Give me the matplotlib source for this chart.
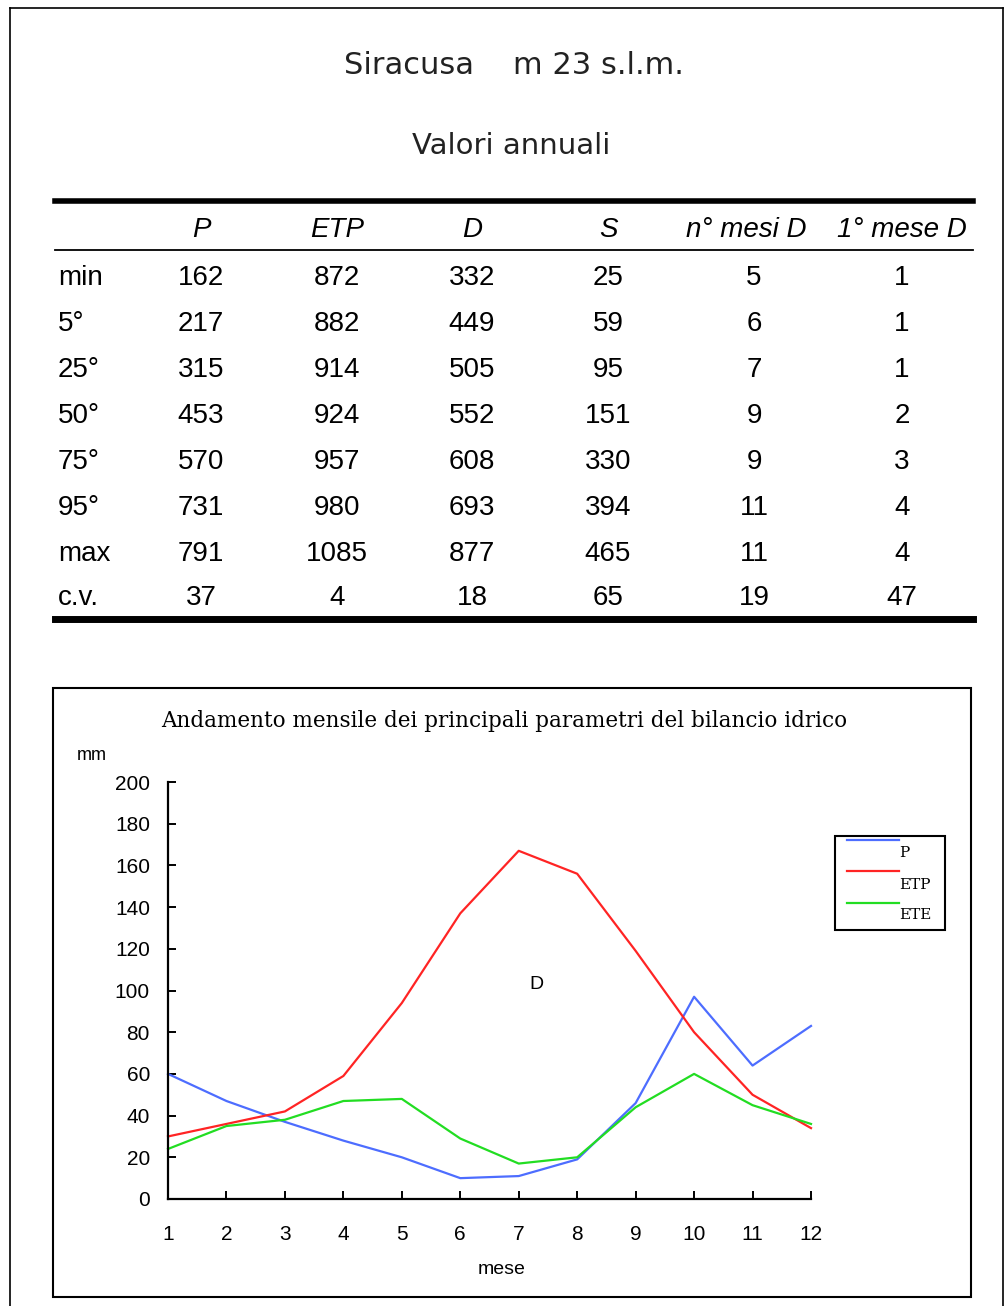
import matplotlib

matplotlib.use("Agg")
import matplotlib.pyplot as plt
from matplotlib.lines import Line2D
from matplotlib.patches import Rectangle

W, H = 1006, 1306

# annual table
col_names = ["P", "ETP", "D", "S", "n° mesi D", "1° mese D"]
row_names = ["min", "5°", "25°", "50°", "75°", "95°", "max", "c.v."]
P_vals = [162, 217, 315, 453, 570, 731, 791, 37]
ETP_vals = [872, 882, 914, 924, 957, 980, 1085, 4]
D_vals = [332, 449, 505, 552, 608, 693, 877, 18]
S_vals = [25, 59, 95, 151, 330, 394, 465, 65]
n_mesi_D = [5, 6, 7, 9, 9, 11, 11, 19]
primo_mese_D = [1, 1, 1, 2, 3, 4, 4, 47]

# monthly series
months = list(range(1, 13))
P_month = [60, 47, 37, 28, 20, 10, 11, 19, 46, 97, 64, 83]
ETP_month = [30, 36, 42, 59, 94, 137, 167, 156, 119, 80, 50, 34]
ETE_month = [24, 35, 38, 47, 48, 29, 17, 20, 44, 60, 45, 36]

SANS_NARROW = ["Liberation Sans Narrow", "Liberation Sans", "DejaVu Sans"]


def fx(x):
    return x / W


def fy(y):
    return 1 - y / H


fig = plt.figure(figsize=(W / 100, H / 100), dpi=100)

# page border
fig.add_artist(Line2D([fx(10), fx(10)], [fy(8), fy(1306)], color="black", lw=1.2))
fig.add_artist(Line2D([fx(10), fx(1003)], [fy(8), fy(8)], color="black", lw=1.2))
fig.add_artist(Line2D([fx(1003), fx(1003)], [fy(8), fy(1306)], color="black", lw=1.2))

fig.text(fx(514), fy(65), "Siracusa    m 23 s.l.m.", ha="center", va="center",
         fontsize=22, family=["DejaVu Sans"], color="#222222")
fig.text(fx(511), fy(146), "Valori annuali", ha="center", va="center",
         fontsize=21, family=["DejaVu Sans"], color="#222222")

# table
tab_x0, tab_x1 = 55, 973
fig.add_artist(Line2D([fx(tab_x0), fx(tab_x1)], [fy(201), fy(201)], color="black", lw=4))
fig.add_artist(Line2D([fx(tab_x0), fx(tab_x1)], [fy(250), fy(250)], color="black", lw=1.3))
fig.add_artist(Line2D([fx(tab_x0), fx(tab_x1)], [fy(619), fy(619)], color="black", lw=5))

col_x = [201, 337, 472, 608, 746, 902]
header_y = 230
row_y = [278, 324, 370, 416, 462, 508, 554, 598]
for cx, name in zip(col_x, col_names):
    fig.text(fx(cx), fy(header_y), name, ha="center", va="center", fontsize=20,
             style="italic", family=SANS_NARROW)

columns = [P_vals, ETP_vals, D_vals, S_vals, n_mesi_D, primo_mese_D]
value_x = [201, 337, 472, 608, 754, 902]
for i, (ry, rname) in enumerate(zip(row_y, row_names)):
    fig.text(fx(58), fy(ry), rname, ha="left", va="center", fontsize=20, family=SANS_NARROW)
    for cx, col in zip(value_x, columns):
        fig.text(fx(cx), fy(ry), str(col[i]), ha="center", va="center", fontsize=20,
                 family=SANS_NARROW)

# chart frame
fig.add_artist(Rectangle((fx(53), fy(1297)), fx(971) - fx(53), fy(688) - fy(1297),
                         fill=False, edgecolor="black", lw=1.5, transform=fig.transFigure))
fig.text(fx(504), fy(721), "Andamento mensile dei principali parametri del bilancio idrico",
         ha="center", va="center", fontsize=15.5, family=["DejaVu Serif"])
fig.text(fx(92), fy(756), "mm", ha="center", va="center", fontsize=13, family=SANS_NARROW)
fig.text(fx(502), fy(1270), "mese", ha="center", va="center", fontsize=14, family=SANS_NARROW)

ax = fig.add_axes([fx(168), fy(1199), fx(811) - fx(168), fy(782) - fy(1199)])
ax.plot(months, P_month, color="#4d6dff", lw=1.6, label="P")
ax.plot(months, ETP_month, color="#ff2424", lw=1.6, label="ETP")
ax.plot(months, ETE_month, color="#22dd22", lw=1.6, label="ETE")
ax.text(7.3, 103, "D", ha="center", va="center", fontsize=14, family=SANS_NARROW)

ax.set_xlim(1, 12)
ax.set_ylim(0, 200)
ax.set_xticks(months)
ax.set_yticks(range(0, 201, 20))
ax.spines["top"].set_visible(False)
ax.spines["right"].set_visible(False)
ax.spines["left"].set_linewidth(1.6)
ax.spines["bottom"].set_linewidth(1.6)
ax.tick_params(axis="both", direction="in", length=6, width=1.4, labelsize=15)
ax.tick_params(axis="x", pad=19)
ax.tick_params(axis="y", pad=13)
for lab in ax.get_xticklabels() + ax.get_yticklabels():
    lab.set_family(SANS_NARROW)
for line in ax.get_lines():
    line.set_clip_on(False)

# legend (line above, label below-right)
fig.add_artist(Rectangle((fx(835), fy(930)), fx(945) - fx(835), fy(836) - fy(930),
                         fill=False, edgecolor="black", lw=1.5, transform=fig.transFigure))
for line, ly, ty in zip(ax.get_lines(), [840, 871, 903], [853, 885, 915]):
    fig.add_artist(Line2D([fx(847), fx(899)], [fy(ly), fy(ly)], color=line.get_color(), lw=1.6))
    fig.text(fx(899), fy(ty), line.get_label(), ha="left", va="center", fontsize=11,
             family=["DejaVu Serif"])

fig.savefig("out.png", dpi=100)
